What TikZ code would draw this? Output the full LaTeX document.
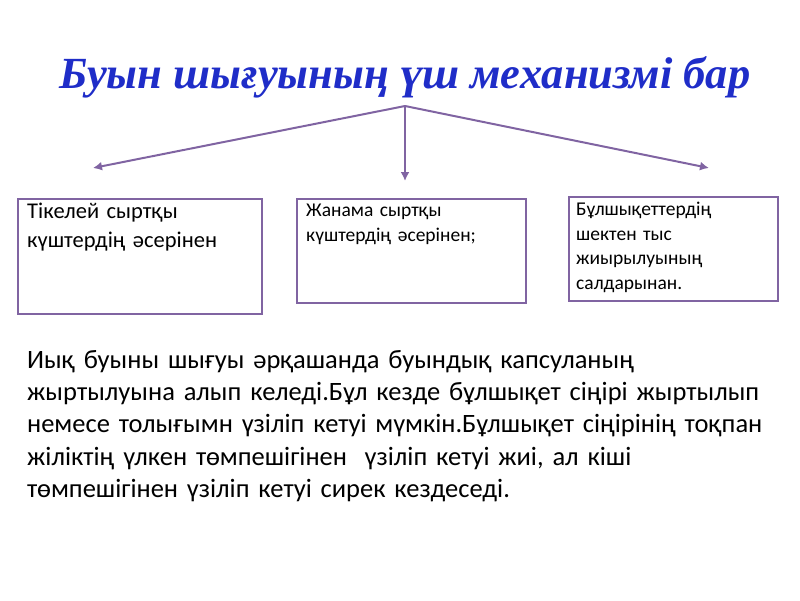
\documentclass[tikz,border=0pt]{standalone}
\usepackage{fontspec}
\setmainfont{Carlito}
\newfontfamily\titlefont{Liberation Serif}
\definecolor{pur}{RGB}{128,100,162}
\definecolor{ttl}{RGB}{31,45,200}
\usetikzlibrary{arrows.meta}
\tikzset{
 box/.style={draw=pur,line width=2pt,anchor=north west,inner sep=0pt},
 boxtext/.style={anchor=north west,align=left,inner sep=0pt},
 conn/.style={draw=pur,line width=2pt,-{Latex[length=9pt,width=9pt]}}
}
\begin{document}
\begin{tikzpicture}[x=1pt,y=-1pt]
\useasboundingbox (0,0) rectangle (800,600);
\node[font=\titlefont\bfseries\itshape\fontsize{44.5}{50}\selectfont,text=ttl] (title) at (405,77) {Буын шығуының үш механизмі бар};
\coordinate (hub) at (405,106);
\draw[box] (18,199) rectangle (262,314);
\draw[box] (297,199) rectangle (526,303);
\draw[box] (569,197) rectangle (778,301);
\coordinate (t1) at (93,168);
\coordinate (t2) at (405,181);
\coordinate (t3) at (709,168);
\draw[conn] (hub) -- (t1);
\draw[conn] (hub) -- (t2);
\draw[conn] (hub) -- (t3);
\node[boxtext,text width=230pt,font=\fontsize{22.5}{29}\selectfont] (b1) at (27,203) {Тікелей сыртқы\\күштердің әсерінен};
\node[boxtext,text width=225pt,font=\fontsize{19.5}{25}\selectfont] (b2) at (306,204) {Жанама сыртқы\\күштердің әсерінен;};
\node[boxtext,text width=205pt,font=\fontsize{19.5}{24.5}\selectfont] (b3) at (576,202) {Бұлшықеттердің\\шектен тыс\\жиырылуының\\салдарынан.};
\node[boxtext,text width=770pt,font=\fontsize{26.5}{32.3}\selectfont] (body) at (27,350) {Иық буыны шығуы әрқашанда буындық капсуланың\\жыртылуына алып келеді.Бұл кезде бұлшықет сіңірі жыртылып\\немесе толығымн үзіліп кетуі мүмкін.Бұлшықет сіңірінің тоқпан\\жіліктің үлкен төмпешігінен\ \ үзіліп кетуі жиі, ал кіші\\төмпешігінен үзіліп кетуі сирек кездеседі.};
\end{tikzpicture}
\end{document}
